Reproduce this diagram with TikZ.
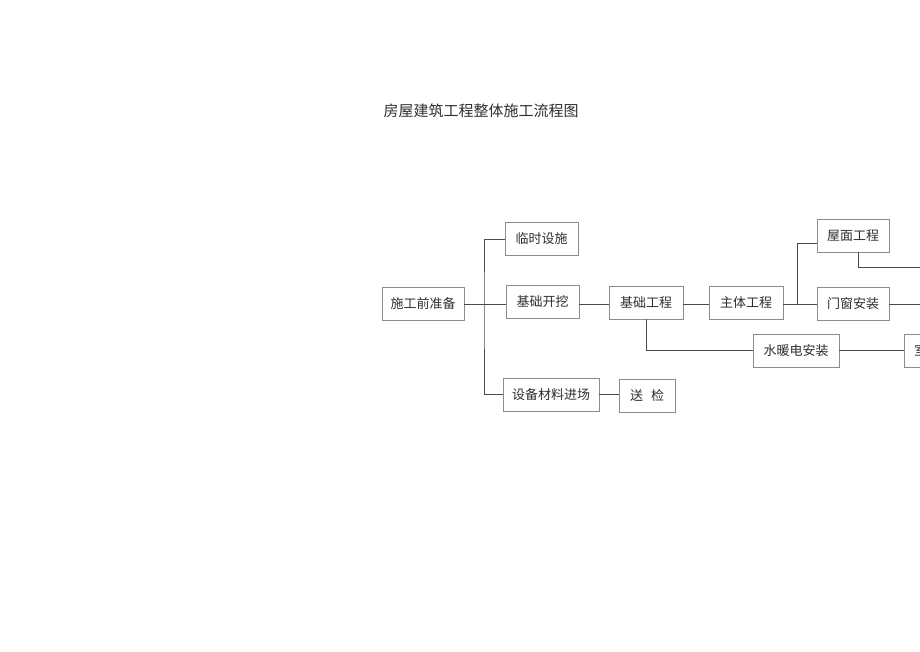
\documentclass[tikz,border=0pt]{standalone}
\usepackage{fontspec}
\newfontfamily\cjk{Noto Sans CJK SC}
\usepackage{tikz}
\usetikzlibrary{calc,positioning}

\definecolor{boxgray}{HTML}{8C8C8C}
\definecolor{linegray}{HTML}{4A4A4A}
\definecolor{textgray}{HTML}{2E2E2E}

\begin{document}
\begin{tikzpicture}[
                x=1pt, y=-1pt,
                every node/.append style={font=\cjk\fontsize{13pt}{15pt}\selectfont,text=textgray},
                stage/.style={draw=boxgray,line width=0.8pt,rectangle,minimum height=33pt,inner xsep=0pt},
                link/.style={draw=linegray,line width=0.9pt}
            ]
                \clip (0,0) rectangle (920,651);
                \node (title) at (481,111) {\fontsize{15pt}{17pt}\selectfont 房屋建筑工程整体施工流程图};

                \node[stage,minimum width=82pt] (prep)   at (423,303.5) {施工前准备};
                \node[stage,minimum width=73pt] (temp)   at (541.5,239) {临时设施};
                \node[stage,minimum width=73pt] (dig)    at (542.5,301.5) {基础开挖};
                \node[stage,minimum width=96pt] (supply) at (551,394.5) {设备材料进场};
                \node[stage,minimum width=56pt] (check)  at (647,396) {送\hspace{8pt}检};
                \node[stage,minimum width=74pt] (found)  at (646,302.5) {基础工程};
                \node[stage,minimum width=74pt] (body)   at (746,302.5) {主体工程};
                \node[stage,minimum width=72pt] (roof)   at (853,235.5) {屋面工程};
                \node[stage,minimum width=72pt] (door)   at (853,303.5) {门窗安装};
                \node[stage,minimum width=86pt] (pipe)   at (796,350.5) {水暖电安装};
                \node[stage,anchor=west,align=left,text width=60pt,inner xsep=10pt] (room) at (904,350.5) {室};

                \coordinate (trunk)   at (484,304);
                \coordinate (branch)  at (797,304);
                \coordinate (roofin)  at (817,243);
                \coordinate (roofout) at (930,267);
                \coordinate (doorout) at (930,304);

                \draw[link] (prep.east |- trunk) -- (dig.west |- trunk);
                \draw[link] (temp.west) -| (trunk) |- (supply.west);
                \draw[link] (dig.east |- trunk) -- (found.west |- trunk);
                \draw[link] (found.east |- trunk) -- (body.west |- trunk);
                \draw[link] (body.east |- trunk) -- (door.west |- trunk);
                \draw[link] (roofin) -| (branch);
                \draw[link] ([xshift=5pt]roof.south) |- (roofout);
                \draw[link] (door.east |- doorout) -- (doorout);
                \draw[link] (found.south) |- (pipe.west);
                \draw[link] (pipe.east) -- (room.west);
                \draw[link] (supply.east) -- (check.west |- supply.east);
            \end{tikzpicture}
\end{document}
